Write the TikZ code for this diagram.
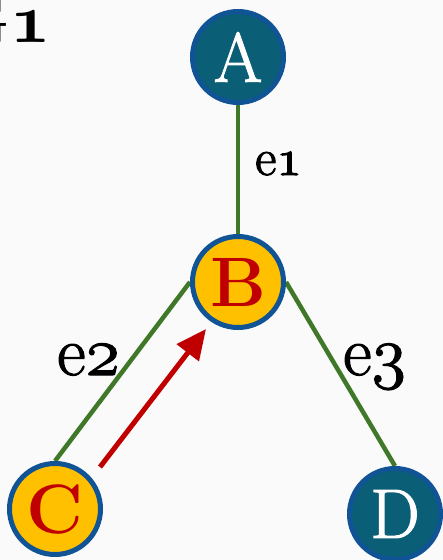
\documentclass[tikz,border=0pt]{standalone}
\usepackage{fix-cm}
\usetikzlibrary{arrows.meta,backgrounds}
\definecolor{teal1}{RGB}{10,94,117}
\definecolor{rim}{RGB}{16,84,150}
\definecolor{gold}{RGB}{255,192,0}
\definecolor{redtxt}{RGB}{192,0,0}
\definecolor{edgegreen}{RGB}{64,120,42}
\definecolor{bg}{RGB}{250,250,250}
\newcommand{\osn}[1]{{\usefont{OML}{cmm}{m}{it}#1}}
\newcommand{\osnb}[1]{{\usefont{OML}{cmm}{b}{it}#1}}
\newcommand{\heavy}[1]{\special{pdf:code 2 Tr 1.1 w}#1\special{pdf:code 0 Tr}}
\pgfdeclarelayer{paper}
\pgfsetlayers{paper,background,main}
\begin{document}
\begin{tikzpicture}[x=1pt,y=-1pt,
  vtx/.style={circle,draw=rim,line width=5pt,minimum size=91pt,inner sep=0pt,
    font=\fontsize{70}{70}\selectfont},
  darkv/.style={vtx,fill=teal1,text=white},
  goldv/.style={vtx,fill=gold,text=redtxt,font=\fontsize{70}{70}\selectfont\bfseries},
  edg/.style={draw=edgegreen,line width=4.5pt},
  lbl/.style={inner sep=0pt,anchor=base west,font=\fontsize{70}{70}\selectfont},
  redarrow/.style={draw=redtxt,line width=5pt,-{Triangle[length=30pt,width=27pt]}}]
\useasboundingbox (0,0) rectangle (443,560);
\begin{pgfonlayer}{paper}
\fill[bg] (0,0) rectangle (443,560);
\end{pgfonlayer}
\node[inner sep=0pt,anchor=base east,font=\fontsize{70}{70}\selectfont\bfseries] (g) at (51,42) {G\osnb{1}};
\coordinate (arrtail) at (100,467);
\coordinate (arrtip) at (206,329);
\node[darkv] (A) at (238,57) {\heavy{A}};
\node[goldv] (B) at (238,282) {B};
\node[goldv] (C) at (55,509) {C};
\node[darkv] (D) at (395,514) {\heavy{D}};
\begin{pgfonlayer}{background}
\path[edg] (A.south) -- (B.north);
\path[edg] (C.north) -- (B.west);
\path[edg] (B.east) -- (D.north);
\end{pgfonlayer}
\path[redarrow] (arrtail) -- (arrtip);
\node[lbl,font=\fontsize{52}{52}\selectfont] (e1) at (255,175) {\heavy{e\osn{1}}};
\node[lbl] (e2) at (57,375) {\heavy{e\osn{2}}};
\node[lbl] (e3) at (343,375) {\heavy{e\osn{3}}};
\end{tikzpicture}
\end{document}
